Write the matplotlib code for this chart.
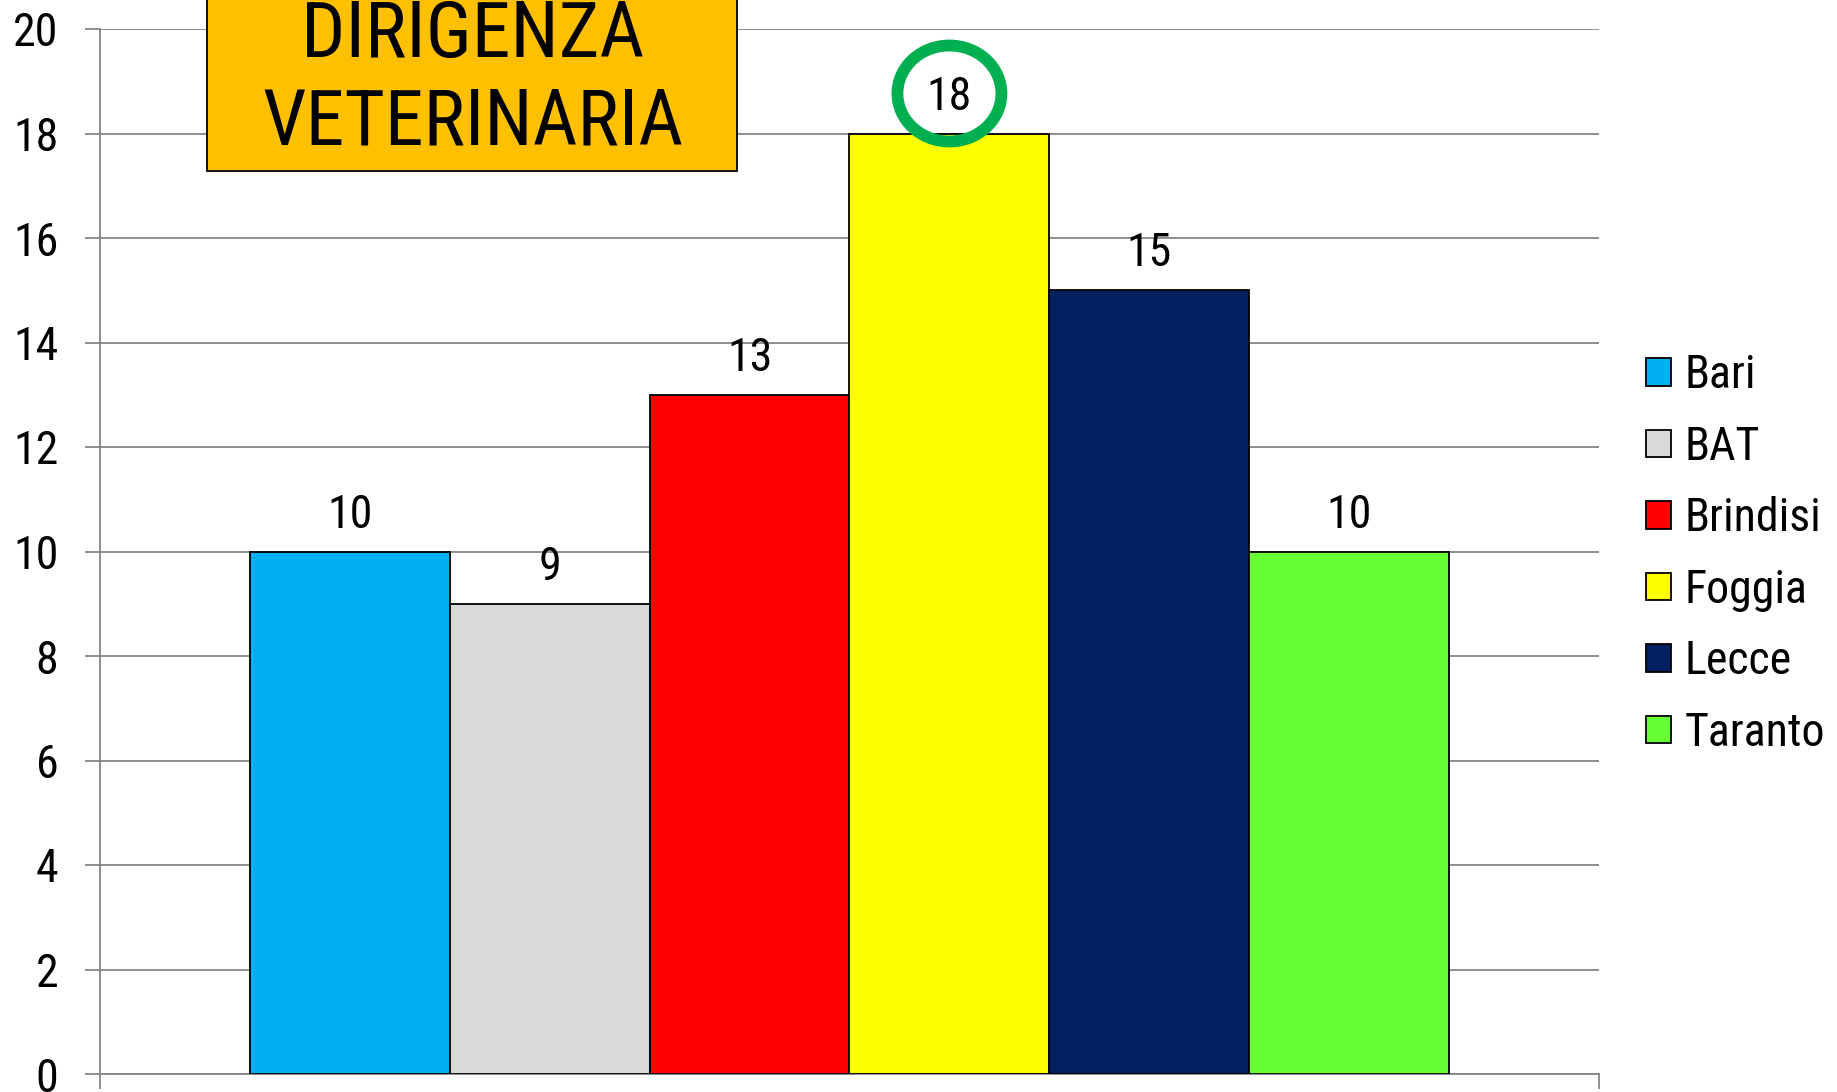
import matplotlib.pyplot as plt
from matplotlib.patches import Rectangle, Ellipse
from matplotlib import font_manager as fm
import numpy as np

wanted = ['Liberation Sans Narrow', 'Arial Narrow', 'Roboto Condensed', 'Archivo Narrow',
          'PT Sans Narrow', 'Pragati Narrow']
have = set(f.name for f in fm.fontManager.ttflist)
narrow = [f for f in wanted if f in have]
plt.rcParams['font.family'] = narrow[:1] + ['DejaVu Sans']

provinces = ["Bari", "BAT", "Brindisi", "Foggia", "Lecce", "Taranto"]
counts = [10, 9, 13, 18, 15, 10]
colors = ["#00B0F0", "#D9D9D9", "#FF0000", "#FFFF00", "#002060", "#66FF33"]
title_lines = ["DIRIGENZA", "VETERINARIA"]
highlight = "Foggia"

W, H = 1837, 1092
fig = plt.figure(figsize=(W / 100, H / 100), dpi=100)
ax_l, ax_b, ax_w, ax_h = 100, 18, 1499, 1045
ax = fig.add_axes([ax_l / W, ax_b / H, ax_w / W, ax_h / H])

n = len(provinces)
w = 0.8 / n
xs = (np.arange(n) - (n - 1) / 2) * w
bars = ax.bar(xs, counts, width=w, color=colors, edgecolor="black", linewidth=1.3,
              zorder=3)

ymax = 20
for x, v, name in zip(xs, counts, provinces):
    ax.annotate(str(v), (x, v), xytext=(0, 37), textcoords="offset pixels",
                ha="center", va="center", fontsize=33, zorder=5)
    if name == highlight:
        cx = x + 0.5
        cy = v / ymax + 40 / ax_h
        ring = Ellipse((cx, cy), 104 / ax_w, 96 / ax_h, transform=ax.transAxes,
                       fill=False, edgecolor="#00B050", linewidth=8.5, zorder=6,
                       clip_on=False)
        ax.add_patch(ring)

ax.set_xlim(-0.5, 0.5)
ax.set_ylim(0, ymax)
ax.set_yticks(np.arange(0, ymax + 1, 2))
ax.set_xticks([-0.5, 0.5])
ax.set_xticklabels(["", ""])
ax.tick_params(axis="y", labelsize=33, length=11, width=1.3, color="#868686", pad=19)
ax.tick_params(axis="x", length=11, width=1.3, color="#868686")
ax.yaxis.grid(True, color="#868686", linewidth=1.3, zorder=0)
ax.set_axisbelow(True)
for side in ["top", "right"]:
    ax.spines[side].set_visible(False)
for side in ["left", "bottom"]:
    ax.spines[side].set_color("#868686")
    ax.spines[side].set_linewidth(1.3)

# title box
box = Rectangle((0.0712, 0.864), 0.354, 0.2, transform=ax.transAxes, facecolor="#FFC000",
                edgecolor="black", linewidth=1.3, clip_on=False, zorder=4)
ax.add_patch(box)
ax.text(0.2485, 0.994, title_lines[0], transform=ax.transAxes, ha="center", va="center",
        fontsize=56, zorder=5)
ax.text(0.2485, 0.91, title_lines[1], transform=ax.transAxes, ha="center", va="center",
        fontsize=56, zorder=5)

leg = fig.legend(handles=list(bars), labels=provinces, loc="center left",
                 bbox_to_anchor=(1646 / W, 0.4927), frameon=False, fontsize=33,
                 handlelength=0.55, handleheight=0.55, handletextpad=0.3,
                 labelspacing=0.6, borderpad=0, borderaxespad=0)

fig.savefig("out.png", dpi=100)
